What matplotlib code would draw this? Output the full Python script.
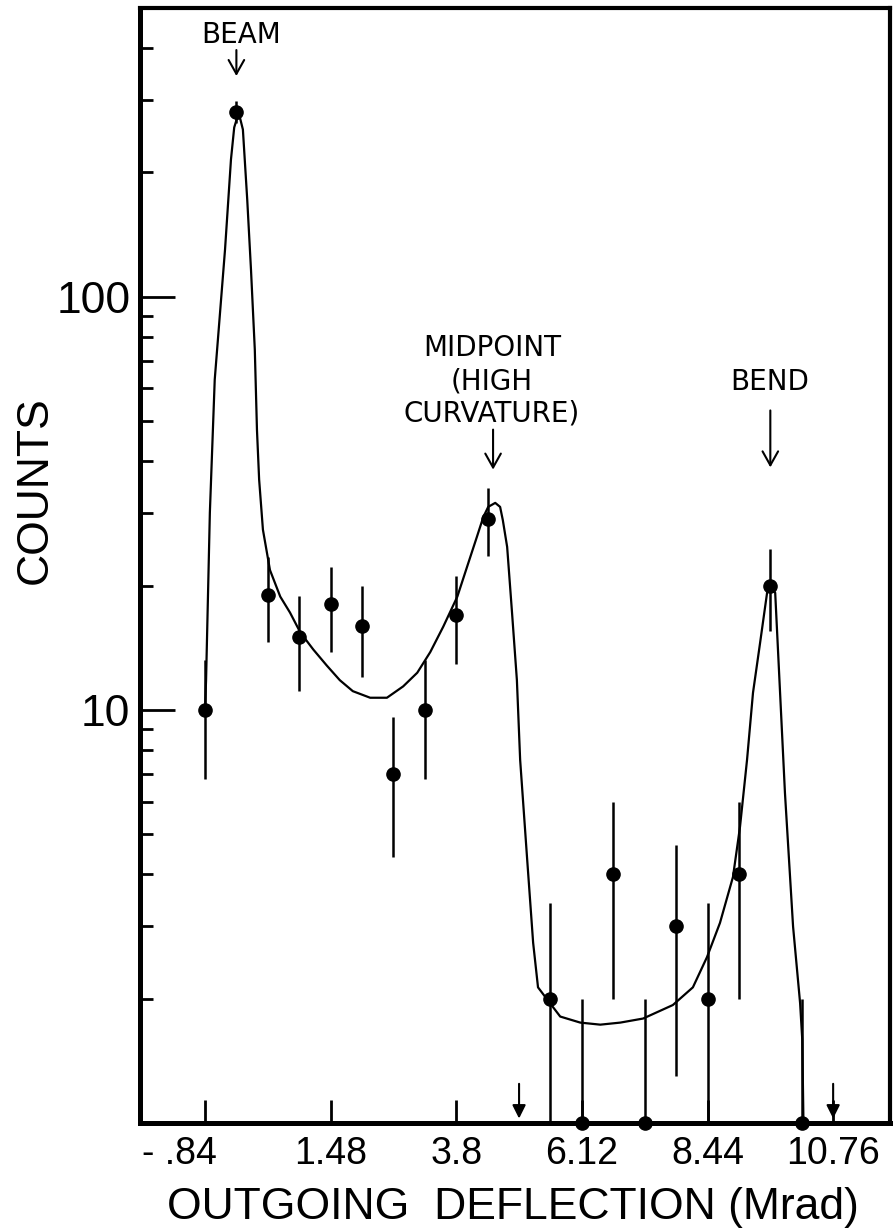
import matplotlib
matplotlib.use("Agg")
import matplotlib.pyplot as plt
from matplotlib.ticker import FixedLocator, LogLocator, NullFormatter
from matplotlib.transforms import ScaledTranslation

DEFLECTION = [-0.84, -0.26, 0.32, 0.90, 1.48, 2.06, 2.64, 3.22, 3.80, 4.38,
              5.54, 6.12, 6.70, 7.28, 7.86, 8.44, 9.02, 9.60, 10.18]
COUNTS = [10, 280, 19, 15, 18, 16, 7, 10, 17, 29,
          2, 1, 4, 1, 3, 2, 4, 20, 1]
COUNT_ERR = [3.2, 17, 4.4, 3.9, 4.2, 4.0, 2.6, 3.2, 4.1, 5.4,
             1.4, 1.0, 2.0, 1.0, 1.7, 1.4, 2.0, 4.5, 1.0]

# hand-drawn fit curve
FIT_X = [-0.84, -0.82, -0.75, -0.66, -0.47, -0.36, -0.30, -0.25, -0.19, -0.14,
         -0.06, 0.01, 0.08, 0.12, 0.16, 0.23, 0.36, 0.55, 0.73, 0.92,
         1.16, 1.41, 1.65, 1.89, 2.21, 2.52, 2.82, 3.08, 3.32, 3.56,
         3.82, 4.00, 4.18, 4.30, 4.39, 4.52, 4.61, 4.66, 4.74, 4.83,
         4.92, 4.98, 5.11, 5.22, 5.31, 5.48, 5.72, 6.09, 6.46, 6.83,
         7.25, 7.80, 8.17, 8.43, 8.67, 8.91, 9.04, 9.17, 9.28, 9.41,
         9.54, 9.60, 9.69, 9.78, 9.87, 10.02, 10.15, 10.19, 10.21]
FIT_Y = [10.0, 11.8, 30.0, 63, 130, 215, 257, 270, 270, 254,
         172, 116, 74.5, 47.6, 36.1, 27.3, 21.8, 18.8, 17.2, 15.4,
         14.0, 12.8, 11.8, 11.1, 10.7, 10.7, 11.4, 12.3, 13.8, 15.9,
         18.8, 22.2, 26.2, 29.3, 31.0, 31.7, 31.0, 28.8, 24.8, 17.2,
         11.8, 7.57, 4.34, 2.73, 2.13, 1.99, 1.81, 1.75, 1.73, 1.75,
         1.79, 1.93, 2.13, 2.52, 3.05, 3.94, 5.21, 7.57, 11.0, 14.5,
         19.2, 20.1, 19.2, 11.0, 6.30, 2.99, 1.95, 1.59, 1.04]

ZERO_BINS = [4.96, 10.76]

X_TICKS = [-0.84, 1.48, 3.8, 6.12, 8.44, 10.76]
X_TICK_LABELS = ["- .84", "1.48", "3.8", "6.12", "8.44", "10.76"]
Y_TICKS = [10, 100]
Y_TICK_LABELS = ["10", "100"]

PEAK_LABELS = ["BEAM", "MIDPOINT\n(HIGH\nCURVATURE)", "BEND"]
PEAK_X = [-0.26, 4.48, 9.60]

W, H = 895, 1228
SANS = ["Liberation Sans Narrow", "Liberation Sans", "DejaVu Sans"]
LABEL_FONT = ["DejaVu Sans"]


def fx(px):
    return px / W


def fy(py):
    return 1 - py / H


fig = plt.figure(figsize=(W / 100, H / 100), dpi=100)
ax = fig.add_axes([fx(140), fy(1123), (890 - 140) / W, (1123 - 8) / H])

ax.set_yscale("log")
ax.set_ylim(1, 500)
ax.set_xlim(-2.04, 11.81)

for side in ("left", "bottom"):
    ax.spines[side].set_linewidth(3.6)
for side in ("top", "right"):
    ax.spines[side].set_linewidth(3.0)

ax.plot(FIT_X, FIT_Y, color="black", lw=1.6, zorder=2)
eb = ax.errorbar(DEFLECTION, COUNTS, yerr=COUNT_ERR, fmt="o", color="black",
                 ms=9.5, elinewidth=1.8, capsize=0, zorder=3)
eb[0].set_clip_on(False)

# bins with no counts
for x in ZERO_BINS:
    ax.annotate("", xy=(x, 0.004), xycoords=("data", "axes fraction"),
                xytext=(0, 25), textcoords="offset points",
                arrowprops=dict(arrowstyle="-|>,head_length=0.4,head_width=0.2",
                                color="black", lw=1.5, mutation_scale=20,
                                shrinkA=0, shrinkB=0))

# labelled peaks: arrow tip (axes fraction), arrow length (pt), text anchor (px, last baseline)
tip_frac = [0.939, 0.586, 0.588]
arrow_len = [18.7, 28.8, 41.0]
text_px = [(241, 43), (492, 422), (770, 390)]
for label, x, tf, alen, (tx, ty) in zip(PEAK_LABELS, PEAK_X, tip_frac, arrow_len, text_px):
    ax.annotate("", xy=(x, tf), xycoords=("data", "axes fraction"),
                xytext=(0, alen), textcoords="offset points",
                arrowprops=dict(arrowstyle="->,head_length=0.5,head_width=0.28",
                                color="black", lw=1.5, mutation_scale=20,
                                shrinkA=0, shrinkB=0))
    fig.text(fx(tx), fy(ty), label, ha="center", va="baseline",
             multialignment="center", fontsize=20, family=LABEL_FONT,
             linespacing=1.22)

ax.set_xticks(X_TICKS)
ax.set_xticklabels(X_TICK_LABELS, fontsize=27, fontfamily=SANS)
ax.yaxis.set_major_locator(FixedLocator(Y_TICKS))
ax.set_yticklabels(Y_TICK_LABELS, fontsize=32, fontfamily=SANS)
ax.yaxis.set_minor_locator(LogLocator(base=10, subs=range(2, 10)))
ax.yaxis.set_minor_formatter(NullFormatter())

ax.tick_params(axis="x", which="major", direction="in", length=16.5, width=2,
               pad=9, top=False)
ax.tick_params(axis="y", which="major", direction="in", length=25, width=2,
               pad=7, right=False)
ax.tick_params(axis="y", which="minor", direction="in", length=9, width=2,
               right=False)

# the "- .84" label sits left of its tick in the original
first = ax.get_xticklabels()[0]
first.set_transform(first.get_transform() + ScaledTranslation(-0.26, 0, fig.dpi_scale_trans))

fig.text(fx(513), fy(1219), "OUTGOING  DEFLECTION (Mrad)", ha="center",
         va="baseline", fontsize=32, family=["Liberation Sans", "DejaVu Sans"])
fig.text(fx(35), fy(490), "COUNTS", rotation=90, ha="center", va="center",
         fontsize=32, family=SANS)

fig.savefig("out.png", dpi=100)
